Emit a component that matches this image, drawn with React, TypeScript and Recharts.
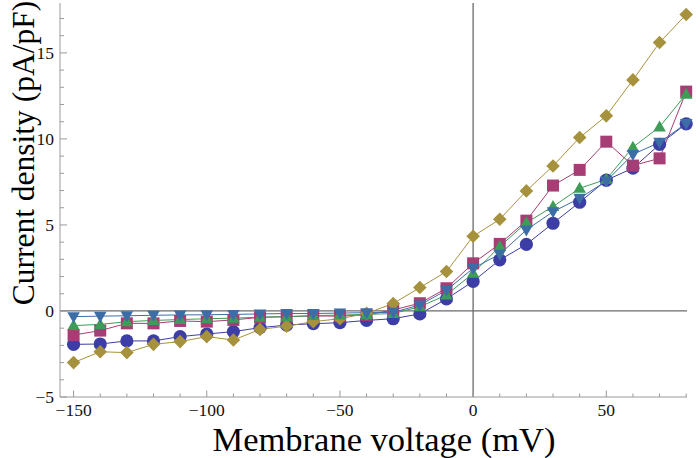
import React from "react";
import { LineChart, Line, XAxis, YAxis, ReferenceLine } from "recharts";

// membrane voltage steps (mV)
const voltages = [
  -150, -140, -130, -120, -110, -100, -90, -80, -70, -60, -50, -40, -30, -20, -10, 0, 10, 20, 30, 40, 50, 60, 70, 80,
];

// current density (pA/pF) per cell
const circleSeries = [
  -1.94, -1.92, -1.74, -1.74, -1.49, -1.34, -1.2, -0.97, -0.82, -0.74, -0.68, -0.55, -0.45, -0.17, 0.7, 1.72, 2.97, 3.87,
  5.1, 6.32, 7.6, 8.3, 9.68, 10.88,
];
const squareSeries = [
  -1.4, -1.14, -0.72, -0.72, -0.58, -0.62, -0.52, -0.37, -0.33, -0.29, -0.3, -0.23, 0.06, 0.45, 1.32, 2.77, 3.9, 5.25,
  7.29, 8.2, 9.84, 8.45, 8.87, 12.75,
];
const diamondSeries = [
  -3.0, -2.37, -2.42, -1.94, -1.78, -1.49, -1.69, -1.07, -0.88, -0.62, -0.45, -0.14, 0.43, 1.36, 2.29, 4.34, 5.33, 6.98,
  8.43, 10.08, 11.34, 13.43, 15.6, 17.23,
];
const triangleSeries = [
  -0.85, -0.78, -0.62, -0.55, -0.5, -0.45, -0.42, -0.36, -0.33, -0.27, -0.24, -0.2, -0.15, 0.25, 0.93, 2.19, 3.75, 5.13,
  6.07, 7.13, 7.65, 9.52, 10.7, 12.6,
];
const invTriangleSeries = [
  -0.33, -0.3, -0.28, -0.25, -0.23, -0.22, -0.2, -0.17, -0.15, -0.15, -0.12, -0.1, -0.08, 0.35, 1.2, 2.48, 3.3, 4.71,
  5.77, 6.55, 7.55, 9.1, 9.8, 10.9,
];

const xTicks = voltages.slice();
const yTicks = [-5, -4, -3, -2, -1, 0, 1, 2, 3, 4, 5, 6, 7, 8, 9, 10, 11, 12, 13, 14, 15, 16, 17];
const xLabeled = [-150, -100, -50, 0, 50];
const yLabeled = [-5, 0, 5, 10, 15];

const data = voltages.map((v, i) => ({
  v,
  circle: circleSeries[i],
  square: squareSeries[i],
  diamond: diamondSeries[i],
  tri: triangleSeries[i],
  inv: invTriangleSeries[i],
}));

const FONT = "'Liberation Serif', 'Times New Roman', Times, serif";
const FRAME = "#9a9a9a";

type Shape = "circle" | "square" | "diamond" | "tri" | "inv";

function Marker({ shape, cx, cy, color }: { shape: Shape; cx: number; cy: number; color: string }) {
  if (cx == null || cy == null) return null;
  if (shape === "circle") return <circle cx={cx} cy={cy} r={6.6} fill={color} />;
  if (shape === "square") return <rect x={cx - 6} y={cy - 6} width={12} height={12} fill={color} />;
  if (shape === "diamond")
    return <polygon points={`${cx},${cy - 6.8} ${cx + 6.8},${cy} ${cx},${cy + 6.8} ${cx - 6.8},${cy}`} fill={color} />;
  if (shape === "tri")
    return <polygon points={`${cx},${cy - 6.5} ${cx + 6.3},${cy + 4.5} ${cx - 6.3},${cy + 4.5}`} fill={color} />;
  return <polygon points={`${cx},${cy + 6.5} ${cx + 6.3},${cy - 4.5} ${cx - 6.3},${cy - 4.5}`} fill={color} />;
}

const fmt = (v: number) => (v < 0 ? `\u2212${Math.abs(v)}` : String(v));

const XTick = (props: any) => {
  const { x, y, payload } = props;
  const major = xLabeled.includes(payload.value);
  return (
    <g>
      <line x1={x} x2={x} y1={y} y2={y - (major ? 6.5 : 3.5)} stroke={FRAME} strokeWidth={1} />
      {major && (
        <text x={x} y={y + 19} textAnchor="middle" style={{ fontFamily: FONT, fontSize: 17.5 }} fill="#111">
          {fmt(payload.value)}
        </text>
      )}
    </g>
  );
};

const YTick = (props: any) => {
  const { x, y, payload } = props;
  const major = yLabeled.includes(payload.value);
  return (
    <g>
      <line x1={x} x2={x + (major ? 7 : 4)} y1={y} y2={y} stroke={FRAME} strokeWidth={1} />
      {major && (
        <text x={x - 6} y={y + 6} textAnchor="end" style={{ fontFamily: FONT, fontSize: 17.5 }} fill="#111">
          {fmt(payload.value)}
        </text>
      )}
    </g>
  );
};

const seriesDefs: { key: Shape; color: string }[] = [
  { key: "circle", color: "#3d3da6" },
  { key: "square", color: "#a63d74" },
  { key: "diamond", color: "#a6923d" },
  { key: "tri", color: "#3d9c58" },
  { key: "inv", color: "#3d6da6" },
];

export default function App() {
  return (
    <div style={{ position: "absolute", left: 0, top: 0, width: 700, height: 458, background: "#fff" }}>
      <LineChart width={700} height={458} data={data} margin={{ top: 3, right: 13, bottom: 0, left: 0 }}>
        <XAxis
          dataKey="v"
          type="number"
          domain={[-155.1, 80.3]}
          ticks={xTicks}
          interval={0}
          height={61}
          tickSize={0}
          tickMargin={0}
          tickLine={false}
          axisLine={{ stroke: FRAME }}
          tick={<XTick />}
        />
        <YAxis
          type="number"
          domain={[-5, 17.9]}
          ticks={yTicks}
          interval={0}
          width={60}
          tickSize={0}
          tickMargin={0}
          tickLine={false}
          axisLine={{ stroke: FRAME }}
          tick={<YTick />}
        />
        <ReferenceLine x={0} stroke="#6a6a6a" strokeWidth={1.3} />
        <ReferenceLine y={0} stroke="#6a6a6a" strokeWidth={1.3} />
        {seriesDefs.map((s) => (
          <Line
            key={s.key}
            dataKey={s.key}
            type="linear"
            stroke={s.color}
            strokeWidth={1}
            isAnimationActive={false}
            activeDot={false}
            dot={(p: any) => (
              <Marker key={`${s.key}-${p.index}`} shape={s.key} cx={p.cx} cy={p.cy} color={s.color} />
            )}
          />
        ))}
      </LineChart>
      <svg width={700} height={458} style={{ position: "absolute", left: 0, top: 0, pointerEvents: "none" }}>
        <text x={384} y={451} textAnchor="middle" style={{ fontFamily: FONT, fontSize: 34.5 }} fill="#000">
          Membrane voltage (mV)
        </text>
        <text
          x={0}
          y={0}
          transform="translate(34,153) rotate(-90)"
          textAnchor="middle"
          style={{ fontFamily: FONT, fontSize: 31.5 }}
          fill="#000"
        >
          Current density (pA/pF)
        </text>
      </svg>
    </div>
  );
}
